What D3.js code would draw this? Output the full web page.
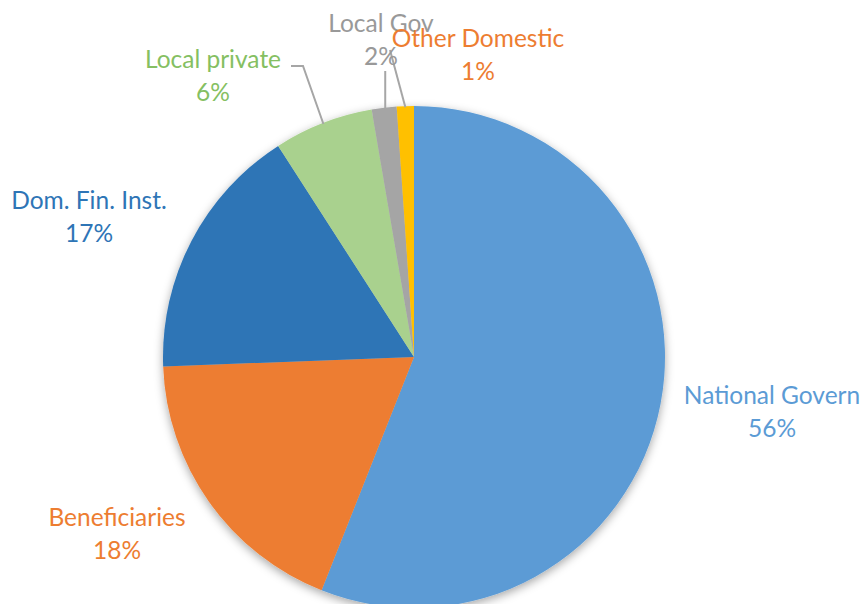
<!DOCTYPE html>
<html>
<head>
<meta charset="utf-8">
<script src="https://cdn.jsdelivr.net/npm/d3@7/dist/d3.min.js"></script>
<style>
  html, body { margin: 0; padding: 0; background: #fff; }
  svg { display: block; }
  text { font-family: Lato, "Open Sans", sans-serif; }
</style>
</head>
<body>
<svg id="chart" width="867" height="604"></svg>
<script>
// Funding sources (share of total, %)
const categories = ["National Govern", "Beneficiaries", "Dom. Fin. Inst.", "Local private", "Local Gov", "Other Domestic"];
const shares = [56.0, 18.4, 16.5, 6.4, 1.6, 1.1];
const sliceColors = ["#5B9BD5", "#ED7D31", "#2E75B6", "#A9D18E", "#A5A5A5", "#FFC000"];
const labelColors = ["#5B9BD5", "#ED7D31", "#2E75B6", "#85BF62", "#999999", "#ED7D31"];

const width = 867, height = 604;
const cx = 414, cy = 357, radius = 251;

const svg = d3.select("#chart");

const defs = svg.append("defs");
const shadow = defs.append("filter").attr("id", "pieShadow")
  .attr("x", "-20%").attr("y", "-20%").attr("width", "140%").attr("height", "140%");
shadow.append("feDropShadow")
  .attr("dx", 0).attr("dy", 3).attr("stdDeviation", 5)
  .attr("flood-color", "#000").attr("flood-opacity", 0.35);

const rows = categories.map((c, i) => ({ name: c, value: shares[i], i }));

const pie = d3.pie().value(d => d.value).sort(null).startAngle(0).endAngle(2 * Math.PI);
const arcs = pie(rows);
const arc = d3.arc().innerRadius(0).outerRadius(radius);

const g = svg.append("g").attr("transform", `translate(${cx},${cy})`);

g.append("g").attr("filter", "url(#pieShadow)")
  .selectAll("path")
  .data(arcs)
  .join("path")
  .attr("d", arc)
  .attr("fill", d => sliceColors[d.data.i]);

// Label placement (label centre x, first baseline y) on the page,
// plus leader lines for the thin slices at the top.
const labelSpots = [
  { x: 772, y: 404 },
  { x: 117, y: 526 },
  { x: 89,  y: 209 },
  { x: 213, y: 68 },
  { x: 381, y: 32 },
  { x: 478, y: 47 }
];
const lineGap = 33;

// edge point of a slice at its mid angle
function edgePoint(d, r) {
  const a = (d.startAngle + d.endAngle) / 2;
  return [cx + r * Math.sin(a), cy - r * Math.cos(a)];
}

const leaders = svg.append("g")
  .attr("fill", "none").attr("stroke", "#A6A6A6").attr("stroke-width", 2);

// Local private: elbow from the label's right end down to the slice
{
  const e = edgePoint(arcs[3], radius - 1);
  leaders.append("path").attr("d", d3.line()([[291, 66], [303, 66], e]));
}
// Local Gov: vertical drop from beneath its label
{
  const e = edgePoint(arcs[4], radius - 1);
  leaders.append("path").attr("d", d3.line()([[e[0] + 1, 71], [e[0] + 1, e[1]]]));
}
// Other Domestic: diagonal from the label to the slice
{
  const e = edgePoint(arcs[5], radius - 1);
  leaders.append("path").attr("d", d3.line()([[390, 50], e]));
}

const fmt = v => Math.round(v) + "%";

const labels = svg.append("g")
  .attr("font-size", 24.5)
  .attr("text-anchor", "middle");

arcs.forEach(d => {
  const s = labelSpots[d.data.i];
  const t = labels.append("text").attr("fill", labelColors[d.data.i]);
  t.append("tspan").attr("x", s.x).attr("y", s.y).text(d.data.name);
  t.append("tspan").attr("x", s.x).attr("y", s.y + lineGap).text(fmt(d.data.value));
});
</script>
</body>
</html>
